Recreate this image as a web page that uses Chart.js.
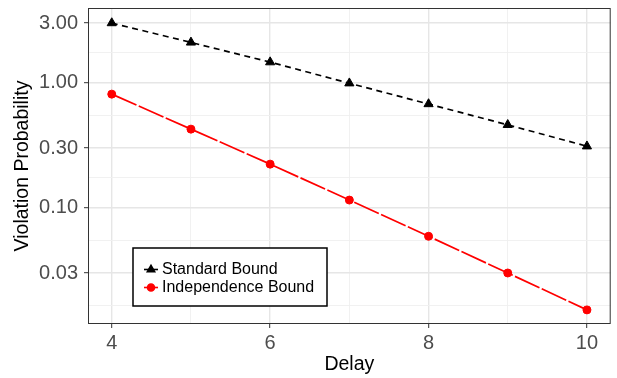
<!DOCTYPE html>
<html>
<head>
<meta charset="utf-8">
<script src="https://cdn.jsdelivr.net/npm/chart.js@4.4.0/dist/chart.umd.min.js"></script>
<style>
  html, body { margin: 0; padding: 0; background: #fff; }
  #wrap { width: 617px; height: 378px; }
</style>
</head>
<body>
<div id="wrap"><canvas id="chart" width="617" height="378"></canvas></div>
<script>
const delays            = [4, 5, 6, 7, 8, 9, 10];
const standardBound     = [3.0, 2.1, 1.46, 0.99, 0.675, 0.46, 0.31];
const independenceBound = [0.81, 0.425, 0.223, 0.115, 0.059, 0.030, 0.0152];

const xMajorTicks = [4, 6, 8, 10];
const xMinorTicks = [5, 7, 9];
const yMajorTicks = [0.03, 0.1, 0.3, 1, 3];
const yMinorTicks = [0.0164, 0.0548, 0.173, 0.548, 1.732];

const FONT = '"Liberation Sans", Arial, Helvetica, sans-serif';

function tickList(major, minor) {
  return major.concat(minor).sort((a, b) => a - b).map(v => ({ value: v }));
}

function gridOpts(major) {
  return {
    color:     ctx => major.includes(ctx.tick && ctx.tick.value) ? '#e6e6e6' : '#efefef',
    lineWidth: ctx => major.includes(ctx.tick && ctx.tick.value) ? 1.4 : 0.9,
    tickColor: ctx => major.includes(ctx.tick && ctx.tick.value) ? '#333333' : 'rgba(0,0,0,0)',
    tickWidth: 1,
    tickLength: 4,
  };
}

// ── panel border + legend box, drawn on top ─────────────────────────
const panelPlugin = {
  id: 'panel',
  afterDraw(chart) {
    const { ctx, chartArea: a } = chart;
    ctx.save();
    ctx.strokeStyle = '#333333';
    ctx.lineWidth = 1;
    ctx.strokeRect(a.left + 0.5, a.top + 0.5, a.right - a.left - 1, a.bottom - a.top - 1);

    // legend
    const bx = 133, by = 248, bw = 194, bh = 58;
    ctx.fillStyle = '#fff';
    ctx.fillRect(bx, by, bw, bh);
    ctx.strokeStyle = '#000';
    ctx.lineWidth = 1.5;
    ctx.strokeRect(bx, by, bw, bh);

    const rows = [269.5, 287.5];
    chart.data.datasets.forEach((ds, i) => {
      const y = rows[i];
      ctx.strokeStyle = ds.borderColor;
      ctx.lineWidth = 1.6;
      ctx.setLineDash([]);
      ctx.beginPath();
      ctx.moveTo(144, y);
      ctx.lineTo(158, y);
      ctx.stroke();
      ctx.fillStyle = ds.borderColor;
      Chart.helpers.drawPoint(ctx, {
        pointStyle: ds.pointStyle,
        radius: ds.pointStyle === 'triangle' ? 4.2 : 3.5,
        borderWidth: 1,
        rotation: 0,
      }, 151, y);
      ctx.fillStyle = '#000';
      ctx.font = '16px ' + FONT;
      ctx.textAlign = 'left';
      ctx.textBaseline = 'middle';
      ctx.fillText(ds.label, 162, y);
    });
    ctx.restore();
  }
};

new Chart(document.getElementById('chart'), {
  type: 'line',
  data: {
    labels: delays,
    datasets: [
      {
        label: 'Standard Bound',
        data: delays.map((d, i) => ({ x: d, y: standardBound[i] })),
        borderColor: '#000000',
        backgroundColor: '#000000',
        borderWidth: 1.7,
        borderDash: [6, 4.5],
        pointStyle: 'triangle',
        pointRadius: 5.3,
        pointBorderWidth: 1,
        pointBackgroundColor: '#000000',
        pointBorderColor: '#000000',
        tension: 0,
      },
      {
        label: 'Independence Bound',
        data: delays.map((d, i) => ({ x: d, y: independenceBound[i] })),
        borderColor: '#ff0000',
        backgroundColor: '#ff0000',
        borderWidth: 1.7,
        borderDash: [27, 2.5],
        pointStyle: 'circle',
        pointRadius: 4,
        pointBorderWidth: 1,
        pointBackgroundColor: '#ff0000',
        pointBorderColor: '#ff0000',
        tension: 0,
      },
    ]
  },
  options: {
    responsive: false,
    animation: false,
    devicePixelRatio: 1,
    layout: { padding: { top: 8, right: 5, left: 0, bottom: 0 } },
    plugins: {
      legend: { display: false },
      tooltip: { enabled: false },
    },
    scales: {
      x: {
        type: 'linear',
        min: 3.7,
        max: 10.3,
        afterBuildTicks: s => { s.ticks = tickList(xMajorTicks, xMinorTicks); },
        afterFit: s => { s.height = 54; s.paddingLeft = 0; s.paddingRight = 0; },
        ticks: {
          autoSkip: false,
          maxRotation: 0,
          padding: 3,
          color: '#4d4d4d',
          font: { family: FONT, size: 20 },
          callback: v => xMajorTicks.includes(v) ? String(v) : '',
        },
        grid: gridOpts(xMajorTicks),
        border: { display: false },
        title: {
          display: true,
          text: 'Delay',
          color: '#000',
          font: { family: FONT, size: 19.5 },
          padding: { top: 0, bottom: 2 },
        },
      },
      y: {
        type: 'logarithmic',
        min: 0.01172,
        max: 3.96,
        afterBuildTicks: s => { s.ticks = tickList(yMajorTicks, yMinorTicks); },
        afterFit: s => { s.width = 88; s.paddingTop = 0; s.paddingBottom = 0; },
        ticks: {
          autoSkip: false,
          padding: 6,
          color: '#4d4d4d',
          font: { family: FONT, size: 20 },
          callback: v => yMajorTicks.includes(v) ? v.toFixed(2) : '',
        },
        grid: gridOpts(yMajorTicks),
        border: { display: false },
        title: {
          display: true,
          text: 'Violation Probability',
          color: '#000',
          font: { family: FONT, size: 19.5 },
          padding: { top: 11, bottom: 0 },
        },
      }
    }
  },
  plugins: [panelPlugin],
});
</script>
</body>
</html>
